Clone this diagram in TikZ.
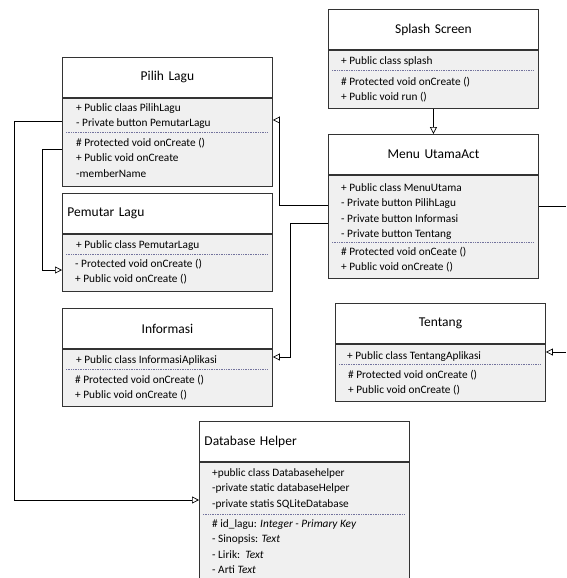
\documentclass[tikz,border=0pt]{standalone}
\usepackage{fontspec}
\setmainfont{Carlito}
\usetikzlibrary{arrows.meta}

\begin{document}
\begin{tikzpicture}[x=1pt, y=-1pt,
        font=\fontsize{11.3}{13}\selectfont,
        kopf/.style={draw=black!80, line width=0.9pt, fill=white, anchor=north west,
            text width=200pt, inner xsep=5pt, inner ysep=0pt, minimum height=40pt,
            align=center, font=\fontsize{13.5}{16}\selectfont},
        rumpf/.style={draw=black!80, line width=0.9pt, fill=black!6, anchor=north west,
            minimum width=210pt, inner sep=0pt},
        item/.style={anchor=base west, inner sep=0pt},
        trenn/.style={draw=blue!30!black!55, densely dotted, line width=0.7pt},
        pfeil/.style={-{Triangle[open, length=7pt, width=7pt]}, line width=0.7pt},
        >=latex % Pfeilspitzen
        ]
    \useasboundingbox (0,0) rectangle (566,578);
    \clip (0,0) rectangle (566,578);

    % Klassen
    \node[kopf] (pilih) at (62,57) {Pilih Lagu};
    \node[rumpf, minimum height=88pt] (pilih-b) at (pilih.south west) {};
    \node[kopf, align=left] (pemutar) at (62,193) {Pemutar Lagu};
    \node[rumpf, minimum height=57pt] (pemutar-b) at (pemutar.south west) {};
    \node[kopf] (info) at (62,308) {Informasi};
    \node[rumpf, minimum height=57pt] (info-b) at (info.south west) {};
    \node[kopf] (splash) at (328,9) {Splash Screen};
    \node[rumpf, minimum height=58pt] (splash-b) at (splash.south west) {};
    \node[kopf] (menu) at (328,134) {Menu UtamaAct};
    \node[rumpf, minimum height=103pt] (menu-b) at (menu.south west) {};
    \node[kopf] (tentang) at (335,303) {Tentang};
    \node[rumpf, minimum height=57pt] (tentang-b) at (tentang.south west) {};
    \node[kopf, align=left] (dbh) at (199,421) {Database Helper};
    \node[rumpf, minimum height=130pt] (dbh-b) at (dbh.south west) {};

    % Attribute, Methoden
    \foreach \t [count=\i from 0] in {{+ Public claas PilihLagu},{- Private button PemutarLagu}}
        \node[item] (pilih-a\i) at (76,111+15.5*\i) {\t};
    \foreach \t [count=\i from 0] in {{\# Protected void onCreate ()},{+ Public void onCreate},{-memberName}}
        \node[item] (pilih-m\i) at (76,146+15.5*\i) {\t};
    \node[item] (pemutar-a0) at (76,248) {+ Public class PemutarLagu};
    \foreach \t [count=\i from 0] in {{- Protected void onCreate ()},{+ Public void onCreate ()}}
        \node[item] (pemutar-m\i) at (75,267+15.5*\i) {\t};
    \node[item] (info-a0) at (76,363) {+ Public class InformasiAplikasi};
    \foreach \t [count=\i from 0] in {{\# Protected void onCreate ()},{+ Public void onCreate ()}}
        \node[item] (info-m\i) at (75,383+15.5*\i) {\t};
    \node[item] (splash-a0) at (341,65) {+ Public class splash};
    \foreach \t [count=\i from 0] in {{\# Protected void onCreate ()},{+ Public void run ()}}
        \node[item] (splash-m\i) at (341,85+15.5*\i) {\t};
    \foreach \t [count=\i from 0] in {{+ Public class MenuUtama},{- Private button PilihLagu},
            {- Private button Informasi},{- Private button Tentang}}
        \node[item] (menu-a\i) at (341,191+15.5*\i) {\t};
    \foreach \t [count=\i from 0] in {{\# Protected void onCeate ()},{+ Public void onCreate ()}}
        \node[item] (menu-m\i) at (341,255+15.5*\i) {\t};
    \node[item] (tentang-a0) at (347,359) {+ Public class TentangAplikasi};
    \foreach \t [count=\i from 0] in {{\# Protected void onCreate ()},{+ Public void onCreate ()}}
        \node[item] (tentang-m\i) at (348,378+15.5*\i) {\t};
    \foreach \t [count=\i from 0] in {{+public class Databasehelper},{-private static databaseHelper},
            {-private statis SQLiteDatabase}}
        \node[item] (dbh-a\i) at (212,476+15.5*\i) {\t};
    \foreach \t [count=\i from 0] in {{\# id\_lagu: \textit{Integer - Primary Key}},{- Sinopsis: \textit{Text}},
            {- Lirik:\ \ \textit{Text}},{- Arti \textit{Text}}}
        \node[item] (dbh-m\i) at (212,527+15.5*\i) {\t};

    % Trennlinien
    \draw[trenn] (66,132) -- (268,132)
                 (66,254) -- (268,254)
                 (66,369) -- (268,369)
                 (332,70) -- (533,70)
                 (332,242) -- (533,242)
                 (339,364) -- (540,364)
                 (203,514) -- (405,514);

    % Knickpunkte
    \coordinate (k1) at (14,121);
    \coordinate (k1b) at (14,500);
    \coordinate (k2) at (42,149);
    \coordinate (k2b) at (42,270);
    \coordinate (k3) at (279,205);
    \coordinate (k3b) at (279,120);
    \coordinate (k4) at (290,223);
    \coordinate (k4b) at (290,357);
    \coordinate (r1) at (566,206);
    \coordinate (r2) at (566,352);

    % Verbindungen
    \draw[pfeil] (pilih-b.west |- k1) -- (k1) -- (k1b) -- (dbh-b.west |- k1b);
    \draw[pfeil] (pilih-b.west |- k2) -- (k2) -- (k2b) -- (pemutar-b.west |- k2b);
    \draw[pfeil] (menu-b.west |- k3) -- (k3) -- (k3b) -- (pilih-b.east |- k3b);
    \draw[pfeil] (menu-b.west |- k4) -- (k4) -- (k4b) -- (info-b.east |- k4b);
    \draw[pfeil] (splash-b.south) -- (menu.north);
    \draw[line width=0.7pt] (menu-b.east |- r1) -- (r1);
    \draw[pfeil] (r2) -- (tentang-b.east |- r2);

\end{tikzpicture}
\end{document}
